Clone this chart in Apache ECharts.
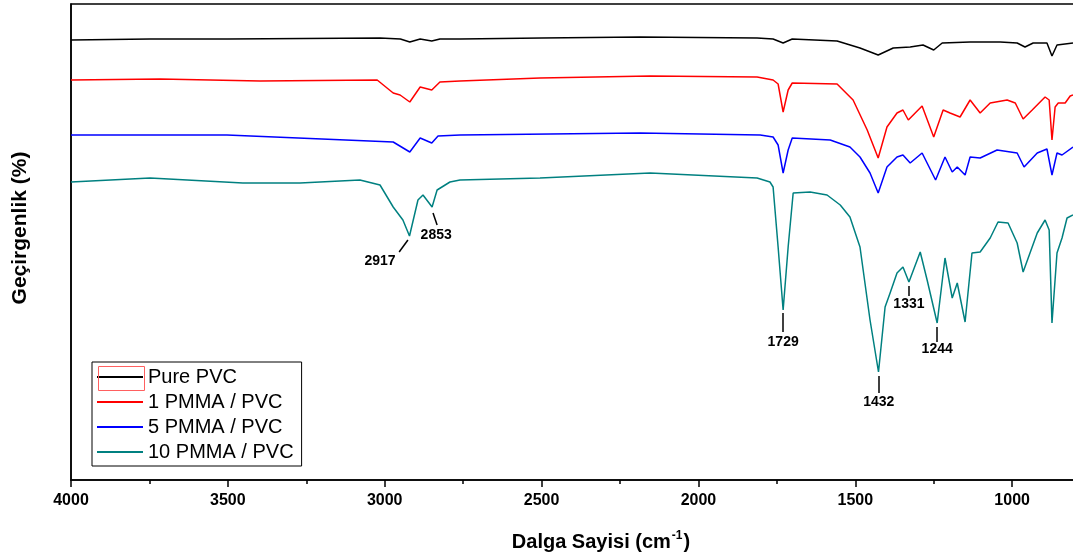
<!DOCTYPE html>
<html>
<head>
<meta charset="utf-8">
<script src="https://cdn.jsdelivr.net/npm/echarts@6/dist/echarts.min.js"></script>
<style>
  html, body { margin: 0; padding: 0; background: #fff; }
  #ftir { width: 1073px; height: 558px; }
</style>
</head>
<body>
<div id="ftir"></div>
<script>
// FTIR spectra, [wavenumber cm-1, transmittance (a.u., offset)]
const purePVC = [
  [4000, 440], [3748, 441], [3500, 441], [3015, 442], [2950, 441], [2920, 438], [2887, 441],
  [2850, 439], [2824, 441], [2760, 441], [2500, 442], [2186, 443], [1813, 442], [1762, 441],
  [1730, 437], [1701, 441], [1558, 439], [1485, 432], [1427, 425], [1379, 432], [1325, 433],
  [1284, 435], [1250, 430], [1223, 437], [1134, 438], [1038, 438], [984, 437], [959, 433],
  [933, 437], [889, 437], [873, 424], [857, 435], [806, 437]
];
const pmma1 = [
  [4000, 400], [3716, 401], [3397, 399], [3024, 400], [2973, 387], [2951, 385], [2920, 378],
  [2887, 393], [2850, 390], [2824, 398], [2760, 399], [2505, 402], [2154, 404], [1813, 403],
  [1762, 400], [1746, 396], [1730, 368], [1714, 390], [1701, 397], [1558, 396], [1507, 380],
  [1462, 350], [1427, 322], [1399, 353], [1367, 367], [1348, 370], [1331, 360], [1287, 374],
  [1250, 343], [1220, 370], [1198, 367], [1166, 363], [1134, 380], [1102, 367], [1070, 377],
  [1016, 380], [990, 377], [965, 361], [936, 370], [895, 383], [882, 380], [873, 340],
  [863, 373], [853, 377], [831, 377], [815, 384], [806, 385]
];
const pmma5 = [
  [4000, 345], [3503, 345], [2973, 338], [2920, 328], [2887, 342], [2850, 337], [2830, 344],
  [2760, 345], [2186, 347], [1803, 345], [1762, 343], [1746, 335], [1730, 307], [1714, 330],
  [1701, 342], [1580, 340], [1517, 333], [1485, 323], [1453, 307], [1427, 287], [1399, 313],
  [1367, 323], [1348, 325], [1325, 317], [1287, 327], [1244, 300], [1214, 323], [1191, 308],
  [1175, 313], [1150, 305], [1134, 323], [1102, 322], [1048, 330], [984, 327], [962, 313],
  [920, 327], [889, 331], [873, 305], [857, 327], [841, 325], [806, 333]
];
const pmma10 = [
  [4000, 298], [3748, 302], [3452, 297], [3270, 297], [3079, 300], [3015, 295], [2973, 273],
  [2942, 260], [2921, 244], [2894, 280], [2878, 285], [2849, 273], [2833, 290], [2792, 298],
  [2760, 300], [2505, 302], [2154, 307], [1813, 302], [1772, 298], [1762, 293], [1746, 233],
  [1730, 170], [1714, 233], [1698, 287], [1644, 288], [1590, 285], [1548, 275], [1517, 263],
  [1485, 233], [1453, 160], [1426, 108], [1405, 173], [1389, 187], [1367, 207], [1348, 213],
  [1329, 198], [1293, 228], [1271, 200], [1239, 157], [1214, 222], [1191, 182], [1175, 197],
  [1150, 158], [1128, 227], [1102, 228], [1070, 242], [1045, 258], [1013, 257], [984, 237],
  [965, 208], [920, 247], [895, 260], [882, 250], [873, 157], [857, 227], [841, 242],
  [825, 262], [806, 265]
];

const seriesNames = ["Pure PVC", "1 PMMA / PVC", "5 PMMA / PVC", "10 PMMA / PVC"];
const seriesColors = ["#000000", "#ff0000", "#0000ff", "#008080"];

// peak labels: text, leader start, leader end, label centre  ([wn, T])
const peaks = [
  ["2917", [2926, 240], [2954, 228], [3015, 219]],
  ["2853", [2846, 267], [2833, 255], [2836, 245]],
  ["1729", [1730, 167], [1730, 148], [1730, 138]],
  ["1432", [1425, 104], [1425, 87], [1425, 78]],
  ["1331", [1329, 194], [1329, 184], [1329, 176]],
  ["1244", [1239, 153], [1239, 138], [1239, 131]]
];

const chart = echarts.init(document.getElementById("ftir"));

const fontFam = "Arial, 'Liberation Sans', sans-serif";

const series = [purePVC, pmma1, pmma5, pmma10].map(function (d, i) {
  const s = {
    name: seriesNames[i],
    type: "line",
    data: d,
    symbol: "none",
    lineStyle: { color: seriesColors[i], width: 1.5 },
    itemStyle: { color: seriesColors[i] },
    animation: false,
    z: 3
  };
  if (i === 3) {
    s.markLine = {
      silent: true,
      symbol: "none",
      animation: false,
      lineStyle: { color: "#000", width: 1.5, type: "solid" },
      label: { show: false },
      data: peaks.map(function (p) {
        return [{ coord: p[1] }, { coord: p[2] }];
      })
    };
    s.markPoint = {
      silent: true,
      animation: false,
      symbol: "circle",
      symbolSize: 0,
      label: {
        show: true,
        position: "inside",
        color: "#000",
        fontSize: 14,
        fontWeight: "bold",
        fontFamily: fontFam
      },
      data: peaks.map(function (p) {
        return { coord: p[3], value: p[0], label: { formatter: p[0] } };
      })
    };
  }
  return s;
});

chart.setOption({
  animation: false,
  grid: {
    left: 71,
    top: 4,
    width: 1098,
    bottom: 78,
    outerBoundsMode: "none",
    containLabel: false,
    show: true,
    borderColor: "#000",
    borderWidth: 1.5
  },
  legend: {
    orient: "vertical",
    left: 92,
    top: 362,
    itemWidth: 46,
    itemHeight: 14,
    itemGap: 5,
    padding: [5, 8, 4, 4],
    borderColor: "#000",
    borderWidth: 1,
    data: seriesNames,
    itemStyle: { opacity: 0 },
    textStyle: { fontSize: 20, color: "#000", fontFamily: fontFam }
  },
  xAxis: {
    type: "value",
    inverse: true,
    min: 500,
    max: 4000,
    interval: 500,
    name: "{t|Dalga Sayisi (cm}{s|-1}{t|)}",
    nameLocation: "middle",
    nameGap: 50,
    nameTextStyle: {
      padding: [0, 38, 0, 0],
      rich: {
        t: { fontSize: 20, fontWeight: "bold", color: "#000", fontFamily: fontFam },
        s: { fontSize: 12, fontWeight: "bold", color: "#000", fontFamily: fontFam, verticalAlign: "top", padding: [0, 1, 12, 1] }
      }
    },
    axisLine: { lineStyle: { color: "#000", width: 1.5 } },
    axisTick: { inside: false, length: 7, lineStyle: { color: "#000", width: 1.5 } },
    minorTick: { show: true, splitNumber: 2, length: 4, lineStyle: { color: "#000", width: 1.5 } },
    axisLabel: {
      color: "#000", fontSize: 16, fontWeight: "bold", margin: 13, fontFamily: fontFam,
      formatter: function (v) { return String(v); }
    },
    splitLine: { show: false }
  },
  yAxis: {
    type: "value",
    min: 0,
    max: 476,
    name: "Geçirgenlik (%)",
    nameLocation: "middle",
    nameGap: 40,
    nameTextStyle: { fontSize: 21, fontWeight: "bold", color: "#000", fontFamily: fontFam, padding: [0, 0, 0, 28] },
    axisLine: { show: true, lineStyle: { color: "#000", width: 1.5 } },
    axisTick: { show: false },
    axisLabel: { show: false },
    splitLine: { show: false }
  },
  graphic: [
    {
      type: "rect",
      left: 96,
      top: 364,
      shape: { width: 46, height: 24 },
      style: { fill: "none", stroke: "#ff6060", lineWidth: 1 },
      z: 100
    }
  ],
  series: series
});
</script>
</body>
</html>
